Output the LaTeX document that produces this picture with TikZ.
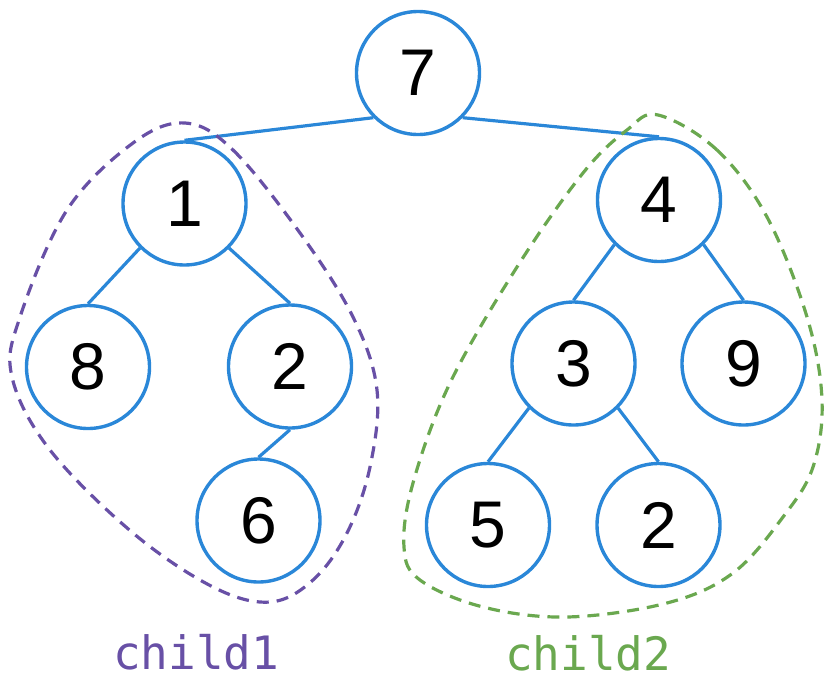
\documentclass[tikz,border=0pt]{standalone}
\usepackage{fontspec}
\setmainfont{Liberation Sans}
\newfontfamily\monofont{DejaVu Sans Mono}
\definecolor{nodeblue}{RGB}{42,135,216}
\definecolor{grpurple}{RGB}{104,80,166}
\definecolor{grgreen}{RGB}{106,168,79}
\begin{document}
\begin{tikzpicture}[x=1pt,y=-1pt,
  tnode/.style={circle,draw=nodeblue,line width=3.4pt,minimum size=123pt,inner sep=0pt,font=\fontsize{66}{70}\selectfont},
  tedge/.style={draw=nodeblue,line width=3.2pt},
  blob/.style={line width=3.2pt,dash pattern=on 12pt off 8pt},
  glabel/.style={font=\monofont\fontsize{46}{50}\selectfont,anchor=base west,inner sep=0pt}]
\useasboundingbox (0,0) rectangle (825,681);
% nodes
\node[tnode] (n7) at (418,73) {7};
\node[tnode] (n1) at (184.5,203.5) {1};
\node[tnode] (n4) at (659,200) {4};
\node[tnode] (n8) at (88,367) {8};
\node[tnode] (n2) at (290,366.5) {2};
\node[tnode] (n6) at (258.5,520.5) {6};
\node[tnode] (n3) at (573.5,363.5) {3};
\node[tnode] (n9) at (743.5,363.5) {9};
\node[tnode] (n5) at (488,525) {5};
\node[tnode] (n2b) at (658.5,525) {2};
% edges
\draw[tedge] (n7.south west) -- (n1.north);
\draw[tedge] (n7.south east) -- (n4.north);
\draw[tedge] (n1.south west) -- (n8.north);
\draw[tedge] (n1.south east) -- (n2.north);
\draw[tedge] (n2.south) -- (n6.north);
\draw[tedge] (n4.south west) -- (n3.north);
\draw[tedge] (n4.south east) -- (n9.north);
\draw[tedge] (n3.south west) -- (n5.north);
\draw[tedge] (n3.south east) -- (n2b.north);
% groups
\draw[blob,draw=grpurple] plot[smooth cycle,tension=0.6] coordinates {
  (185,123) (233,150) (300,233) (353,317) (377,390) (370,467) (347,533)
  (313,580) (270,602) (213,587) (133,533) (50,450) (12,377) (20,317)
  (67,210) (133,143)};
\draw[blob,draw=grgreen] plot[smooth cycle,tension=0.6] coordinates {
  (658,115) (717,150) (767,217) (807,317) (822,400) (813,467) (783,517)
  (733,573) (667,603) (567,617) (483,607) (420,580) (404,547) (413,483)
  (450,383) (517,267) (583,173) (627,130)};
% labels
\node[glabel,text=grpurple] (l1) at (113,669) {child1};
\node[glabel,text=grgreen] (l2) at (505,670) {child2};
\end{tikzpicture}
\end{document}
